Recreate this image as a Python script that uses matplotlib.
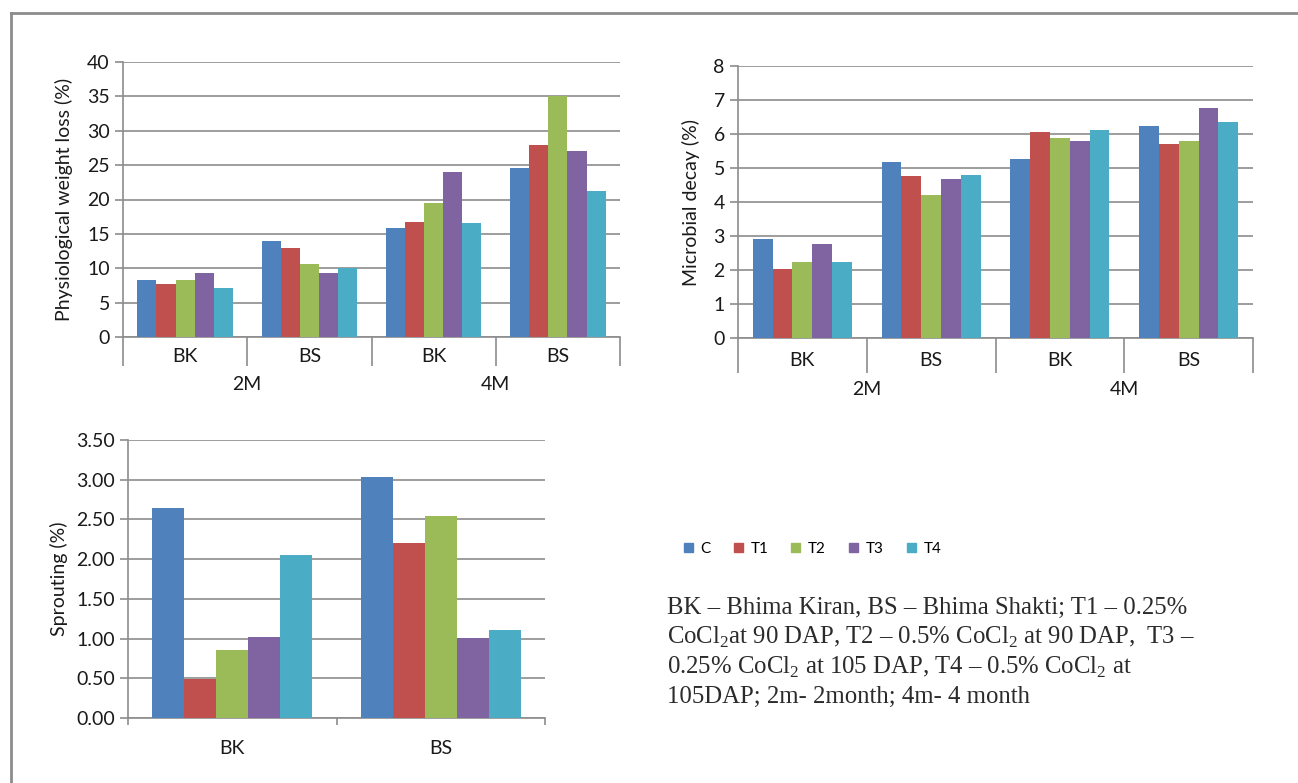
import matplotlib
matplotlib.use('Agg')
import matplotlib.pyplot as plt
import numpy as np
from matplotlib.patches import Patch

# dados
tratamentos = ['C', 'T1', 'T2', 'T3', 'T4']
cores = ['#4F81BD', '#C0504D', '#9BBB59', '#8064A2', '#4BACC6']
categorias = ['BK', 'BS', 'BK', 'BS']
meses = ['2M', '4M']

perda_peso = {
    'C':  [8.3, 13.9, 15.8, 24.6],
    'T1': [7.7, 13.0, 16.8, 27.9],
    'T2': [8.3, 10.6, 19.5, 35.0],
    'T3': [9.3, 9.3, 24.0, 27.1],
    'T4': [7.1, 10.0, 16.6, 21.3],
}
decaimento = {
    'C':  [2.90, 5.17, 5.25, 6.23],
    'T1': [2.03, 4.76, 6.07, 5.70],
    'T2': [2.23, 4.22, 5.87, 5.78],
    'T3': [2.77, 4.68, 5.78, 6.77],
    'T4': [2.23, 4.80, 6.11, 6.36],
}
cat_brot = ['BK', 'BS']
brotamento = {
    'C':  [2.64, 3.04],
    'T1': [0.49, 2.20],
    'T2': [0.85, 2.54],
    'T3': [1.02, 1.01],
    'T4': [2.05, 1.11],
}

nota = [
    'BK \u2013 Bhima Kiran, BS \u2013 Bhima Shakti; T1 \u2013 0.25%',
    'CoCl$_\\mathrm{2}$at 90 DAP, T2 \u2013 0.5% CoCl$_\\mathrm{2}$ at 90 DAP,  T3 \u2013',
    '0.25% CoCl$_\\mathrm{2}$ at 105 DAP, T4 \u2013 0.5% CoCl$_\\mathrm{2}$ at',
    '105DAP; 2m- 2month; 4m- 4 month',
]

plt.rcParams['font.family'] = ['Lato', 'DejaVu Sans']
plt.rcParams['mathtext.fontset'] = 'custom'
plt.rcParams['mathtext.rm'] = 'Liberation Serif'

W, H = 1298, 783
CINZA = '#8C8C8C'
TXT = '#1a1a1a'
FS = 14

fig = plt.figure(figsize=(W / 100, H / 100), dpi=100)


def eixo(x0, x1, y_top, y_bot):
    return fig.add_axes([x0 / W, 1 - y_bot / H, (x1 - x0) / W, (y_bot - y_top) / H])


def barras(ax, dados, ncat):
    larg = 1 / 6.5
    x = np.arange(ncat)
    for i, t in enumerate(tratamentos):
        ax.bar(x + (i - 2) * larg, dados[t], larg, color=cores[i], zorder=3)
    ax.set_xlim(-0.5, ncat - 0.5)
    for s in ['top', 'right']:
        ax.spines[s].set_visible(False)
    for s in ['left', 'bottom']:
        ax.spines[s].set_color(CINZA)
        ax.spines[s].set_linewidth(1.2)
    ax.yaxis.grid(True, color=CINZA, lw=1.2, zorder=0)
    ax.tick_params(axis='y', colors=CINZA, labelcolor=TXT, labelsize=FS, length=6, width=1.2)
    ax.set_xticks(np.arange(ncat + 1) - 0.5)
    ax.set_xticklabels([])
    ax.set_xticks(x, minor=True)


def eixo_2niveis(ax, dados, rotulo, yticks, comp, pad, y_mes):
    barras(ax, dados, 4)
    ax.set_ylim(yticks[0], yticks[-1])
    ax.set_yticks(yticks)
    ax.tick_params(axis='x', which='major', colors=CINZA, length=comp, width=1.2)
    ax.set_xticklabels(categorias, minor=True)
    ax.tick_params(axis='x', which='minor', length=0, pad=pad, labelsize=FS, labelcolor=TXT)
    for j, m in enumerate(meses):
        ax.text(0.5 + 2 * j, y_mes, m, transform=ax.get_xaxis_transform(),
                ha='center', va='center', fontsize=FS, color=TXT)
    ax.set_ylabel(rotulo, fontsize=FS, color=TXT, labelpad=10)


ax1 = eixo(123, 620, 62, 337)
eixo_2niveis(ax1, perda_peso, 'Physiological weight loss (%)', np.arange(0, 41, 5),
             21, 8, -0.172)

ax2 = eixo(738, 1253, 66, 338)
eixo_2niveis(ax2, decaimento, 'Microbial decay (%)', np.arange(0, 9, 1),
             25, 10, -0.188)

ax3 = eixo(128, 545, 440, 718)
barras(ax3, brotamento, 2)
ax3.set_ylim(0, 3.5)
ax3.set_yticks(np.arange(0, 3.51, 0.5))
ax3.set_yticklabels(['%.2f' % v for v in np.arange(0, 3.51, 0.5)])
ax3.tick_params(axis='x', which='major', colors=CINZA, length=5, width=1.2)
ax3.set_xticklabels(cat_brot, minor=True)
ax3.tick_params(axis='x', which='minor', length=0, pad=16, labelsize=FS, labelcolor=TXT)
ax3.set_ylabel('Sprouting (%)', fontsize=FS, color=TXT, labelpad=6)

# legenda
alcas = [Patch(color=c) for c in cores]
fig.legend(alcas, tratamentos, loc='center left', bbox_to_anchor=(670 / W, 1 - 549 / H),
           ncol=5, frameon=False, handlelength=0.6, handleheight=0.6, handletextpad=0.5,
           columnspacing=1.5, fontsize=11)

# nota de rodapé
for k, linha in enumerate(nota):
    fig.text(667 / W, 1 - (608 + 29.7 * k) / H, linha, ha='left', va='center',
             fontsize=17.8, color='#2b2b2b', family='Liberation Serif')

# moldura
fig.add_artist(plt.Line2D([11 / W, 1], [1 - 13 / H, 1 - 13 / H], color='#8C8C8C', lw=2))
fig.add_artist(plt.Line2D([11 / W, 11 / W], [0, 1 - 13 / H], color='#8C8C8C', lw=2))

fig.savefig('out.png', dpi=100)
